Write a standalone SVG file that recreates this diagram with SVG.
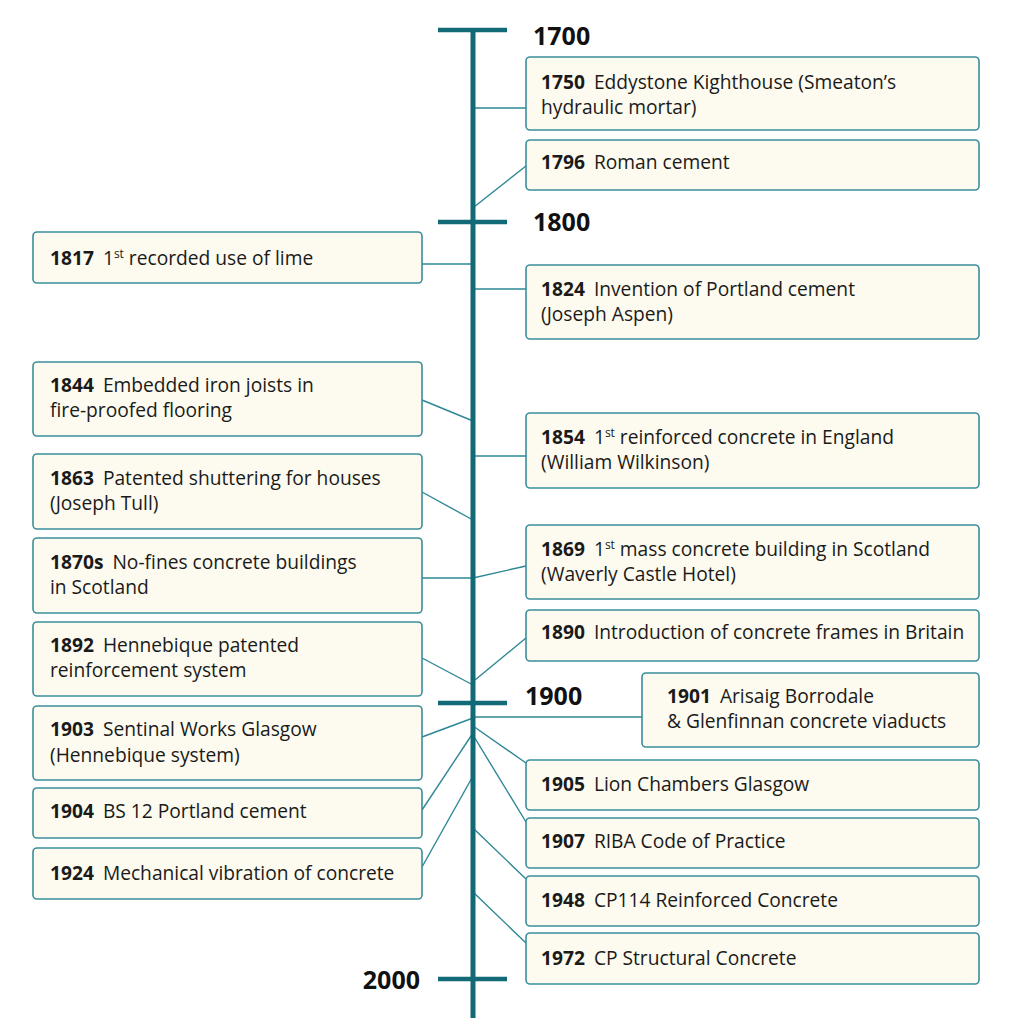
<svg xmlns="http://www.w3.org/2000/svg" width="1034" height="1019" viewBox="0 0 1034 1019">
<style>
.box{fill:#fdfbef;stroke:#3a8e9b;stroke-width:1.6}
.t{font-family:"Open Sans","Noto Sans","Liberation Sans",sans-serif;font-size:19.2px;fill:#1a1a1a}
.y{font-weight:bold}
.sup{font-size:12px}
.era{font-family:"Open Sans","Noto Sans","Liberation Sans",sans-serif;font-size:25px;font-weight:bold;fill:#111}
.axis{stroke:#126a77;stroke-width:5;fill:none}
.tick{stroke:#126a77;stroke-width:4.5;fill:none}
.c{stroke:#2d8795;stroke-width:1.4;fill:none}
</style>
<rect width="1034" height="1019" fill="#ffffff"/>
<g id="connectors">
<line class="c" x1="473" y1="108" x2="526" y2="108"/>
<line class="c" x1="526" y1="166" x2="474" y2="207"/>
<line class="c" x1="422" y1="264" x2="473" y2="264"/>
<line class="c" x1="473" y1="289" x2="526" y2="289"/>
<line class="c" x1="422" y1="400" x2="473" y2="421"/>
<line class="c" x1="473" y1="456" x2="526" y2="456"/>
<line class="c" x1="422" y1="492" x2="473" y2="520"/>
<line class="c" x1="422" y1="578" x2="473" y2="578"/>
<line class="c" x1="473" y1="578" x2="526" y2="566"/>
<line class="c" x1="475" y1="680" x2="526" y2="638"/>
<line class="c" x1="422" y1="658" x2="473" y2="685"/>
<line class="c" x1="473" y1="717" x2="642" y2="717"/>
<line class="c" x1="422" y1="737" x2="473" y2="718"/>
<line class="c" x1="473" y1="726" x2="526" y2="763"/>
<line class="c" x1="422" y1="810" x2="473" y2="733"/>
<line class="c" x1="473" y1="735" x2="526" y2="822"/>
<line class="c" x1="422" y1="867" x2="473" y2="776"/>
<line class="c" x1="473" y1="828" x2="526" y2="879"/>
<line class="c" x1="473" y1="892" x2="526" y2="943"/>
</g>
<g id="axis">
<line class="axis" x1="473" y1="29" x2="473" y2="1018"/>
<line class="tick" x1="438" y1="30" x2="507" y2="30"/>
<line class="tick" x1="438" y1="222" x2="507" y2="222"/>
<line class="tick" x1="438" y1="703" x2="507" y2="703"/>
<line class="tick" x1="438" y1="979" x2="507" y2="979"/>
<text class="era" x="533" y="45">1700</text>
<text class="era" x="533" y="231">1800</text>
<text class="era" x="525" y="705">1900</text>
<text class="era" x="420" y="989" text-anchor="end">2000</text>
</g>
<g id="n1750"><rect class="box" x="526" y="57" width="453" height="73" rx="4"/>
<text class="t" x="541" y="89"><tspan class="y">1750</tspan><tspan dx="9">Eddystone Kighthouse (Smeaton’s</tspan></text>
<text class="t" x="541" y="114">hydraulic mortar)</text></g>
<g id="n1796"><rect class="box" x="526" y="140" width="453" height="50" rx="4"/>
<text class="t" x="541" y="169"><tspan class="y">1796</tspan><tspan dx="9">Roman cement</tspan></text></g>
<g id="n1817"><rect class="box" x="33" y="232" width="389" height="51" rx="4"/>
<text class="t" x="50" y="265"><tspan class="y">1817</tspan><tspan dx="9">1</tspan><tspan class="sup" dy="-7">st</tspan><tspan dy="7"> recorded use of lime</tspan></text></g>
<g id="n1824"><rect class="box" x="526" y="265" width="453" height="74" rx="4"/>
<text class="t" x="541" y="296"><tspan class="y">1824</tspan><tspan dx="9">Invention of Portland cement</tspan></text>
<text class="t" x="541" y="321">(Joseph Aspen)</text></g>
<g id="n1844"><rect class="box" x="33" y="362" width="389" height="74" rx="4"/>
<text class="t" x="50" y="392"><tspan class="y">1844</tspan><tspan dx="9">Embedded iron joists in</tspan></text>
<text class="t" x="50" y="417">fire-proofed flooring</text></g>
<g id="n1854"><rect class="box" x="526" y="413" width="453" height="75" rx="4"/>
<text class="t" x="541" y="444"><tspan class="y">1854</tspan><tspan dx="9">1</tspan><tspan class="sup" dy="-7">st</tspan><tspan dy="7"> reinforced concrete in England</tspan></text>
<text class="t" x="541" y="469">(William Wilkinson)</text></g>
<g id="n1863"><rect class="box" x="33" y="454" width="389" height="75" rx="4"/>
<text class="t" x="50" y="485"><tspan class="y">1863</tspan><tspan dx="9">Patented shuttering for houses</tspan></text>
<text class="t" x="50" y="510">(Joseph Tull)</text></g>
<g id="n1869"><rect class="box" x="526" y="525" width="453" height="74" rx="4"/>
<text class="t" x="541" y="556"><tspan class="y">1869</tspan><tspan dx="9">1</tspan><tspan class="sup" dy="-7">st</tspan><tspan dy="7"> mass concrete building in Scotland</tspan></text>
<text class="t" x="541" y="581">(Waverly Castle Hotel)</text></g>
<g id="n1870s"><rect class="box" x="33" y="538" width="389" height="75" rx="4"/>
<text class="t" x="50" y="569"><tspan class="y">1870s</tspan><tspan dx="9">No-fines concrete buildings</tspan></text>
<text class="t" x="50" y="594">in Scotland</text></g>
<g id="n1890"><rect class="box" x="526" y="610" width="453" height="51" rx="4"/>
<text class="t" x="541" y="639"><tspan class="y">1890</tspan><tspan dx="9">Introduction of concrete frames in Britain</tspan></text></g>
<g id="n1892"><rect class="box" x="33" y="622" width="389" height="74" rx="4"/>
<text class="t" x="50" y="652"><tspan class="y">1892</tspan><tspan dx="9">Hennebique patented</tspan></text>
<text class="t" x="50" y="677">reinforcement system</text></g>
<g id="n1901"><rect class="box" x="642" y="673" width="337" height="74" rx="4"/>
<text class="t" x="667" y="703"><tspan class="y">1901</tspan><tspan dx="9">Arisaig Borrodale</tspan></text>
<text class="t" x="667" y="728">&amp; Glenfinnan concrete viaducts</text></g>
<g id="n1903"><rect class="box" x="33" y="706" width="389" height="74" rx="4"/>
<text class="t" x="50" y="736"><tspan class="y">1903</tspan><tspan dx="9">Sentinal Works Glasgow</tspan></text>
<text class="t" x="50" y="762">(Hennebique system)</text></g>
<g id="n1905"><rect class="box" x="526" y="760" width="453" height="50" rx="4"/>
<text class="t" x="541" y="791"><tspan class="y">1905</tspan><tspan dx="9">Lion Chambers Glasgow</tspan></text></g>
<g id="n1904"><rect class="box" x="33" y="788" width="389" height="50" rx="4"/>
<text class="t" x="50" y="818"><tspan class="y">1904</tspan><tspan dx="9">BS 12 Portland cement</tspan></text></g>
<g id="n1907"><rect class="box" x="526" y="818" width="453" height="50" rx="4"/>
<text class="t" x="541" y="848"><tspan class="y">1907</tspan><tspan dx="9">RIBA Code of Practice</tspan></text></g>
<g id="n1924"><rect class="box" x="33" y="848" width="389" height="51" rx="4"/>
<text class="t" x="50" y="880"><tspan class="y">1924</tspan><tspan dx="9">Mechanical vibration of concrete</tspan></text></g>
<g id="n1948"><rect class="box" x="526" y="876" width="453" height="50" rx="4"/>
<text class="t" x="541" y="907"><tspan class="y">1948</tspan><tspan dx="9">CP114 Reinforced Concrete</tspan></text></g>
<g id="n1972"><rect class="box" x="526" y="933" width="453" height="51" rx="4"/>
<text class="t" x="541" y="965"><tspan class="y">1972</tspan><tspan dx="9">CP Structural Concrete</tspan></text></g>
</svg>
